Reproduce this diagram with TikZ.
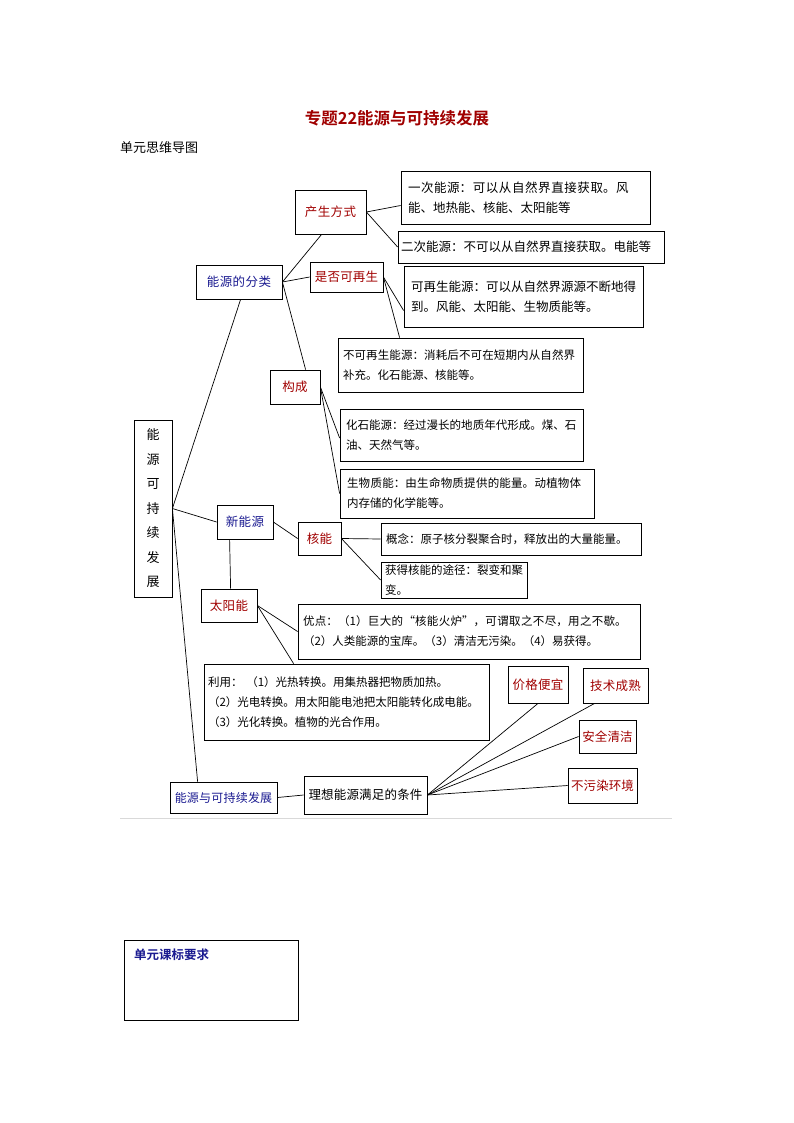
\documentclass[tikz,border=0pt]{standalone}
\usepackage{fontspec}
\setmainfont{Noto Sans CJK SC}[BoldFont={Noto Sans CJK SC Bold}]
\XeTeXlinebreaklocale "zh"
\XeTeXlinebreakskip=0pt plus 1pt
\definecolor{dred}{HTML}{A00000}
\definecolor{navy}{HTML}{1A1A90}
\begin{document}
\begin{tikzpicture}[x=1pt,y=-1pt,
  bx/.style={draw, line width=0.8pt, inner sep=0pt, font=\fontsize{12.5}{20}\selectfont},
  lab/.style={bx, text=dred, font=\fontsize{12.5}{15}\selectfont},
  blab/.style={bx, text=navy, font=\fontsize{12.5}{15}\selectfont},
  txt/.style={bx, align=left},
  ln/.style={line width=0.7pt}]
\useasboundingbox (0,0) rectangle (794,1123);
\node[text=dred, font=\fontsize{16.5}{20}\selectfont\bfseries] (title) at (397,118) {专题22能源与可持续发展};
\node[anchor=west, inner sep=0pt, font=\fontsize{13}{15}\selectfont] (sub) at (120,148) {单元思维导图};
\newcommand{\bxat}[8]{\pgfmathsetmacro\mw{#4-#2}\pgfmathsetmacro\mh{#5-#3}\pgfmathsetmacro\tw{#4-#2-#6}%
\node[#1, minimum width=\mw pt, minimum height=\mh pt, text width=\tw pt] (#7) at ({(#2+#4)/2},{(#3+#5)/2}) {#8};}
\bxat{lab,align=center}{295}{190}{366}{234}{0}{cs}{产生方式}
\bxat{txt}{401}{171}{650}{224}{14}{yc}{一次能源：可以从自然界直接获取。风能、地热能、核能、太阳能等}
\bxat{txt}{398}{231}{664}{263}{6}{ec}{二次能源：不可以从自然界直接获取。电能等}
\bxat{blab,align=center}{196}{265}{282}{299}{0}{fl}{能源的分类}
\bxat{lab,align=center}{310}{262}{383}{292}{0}{zs}{是否可再生}
\bxat{txt}{404}{266}{643}{327}{14}{kz}{可再生能源：可以从自然界源源不断地得到。风能、太阳能、生物质能等。}
\bxat{txt,font=\fontsize{11.5}{20}\selectfont}{338}{338}{583}{392}{10}{bk}{不可再生能源：消耗后不可在短期内从自然界补充。化石能源、核能等。}
\bxat{lab,align=center}{270}{370}{320}{404}{0}{gc}{构成}
\bxat{txt,font=\fontsize{11.5}{20}\selectfont}{340}{409}{583}{461}{12}{hs}{化石能源：经过漫长的地质年代形成。煤、石油、天然气等。}
\bxat{txt,font=\fontsize{11.5}{20}\selectfont}{340}{469}{594}{518}{14}{sw}{生物质能：由生命物质提供的能量。动植物体内存储的化学能等。}
\bxat{bx,align=center,font=\fontsize{13}{24.5}\selectfont}{134}{420}{172}{597}{0}{root}{能\\源\\可\\持\\续\\发\\展}
\bxat{blab,align=center}{217}{505}{273}{539}{0}{xn}{新能源}
\bxat{lab,align=center}{298}{522}{341}{555}{0}{hn}{核能}
\bxat{txt,font=\fontsize{11.5}{20}\selectfont}{381}{523}{641}{555}{10}{gn}{概念：原子核分裂聚合时，释放出的大量能量。}
\bxat{txt,font=\fontsize{11.5}{20}\selectfont}{381}{562}{527}{598}{8}{hd}{获得核能的途径：裂变和聚变。}
\bxat{lab,align=center}{201}{589}{257}{622}{0}{ty}{太阳能}
\bxat{txt,font=\fontsize{11.5}{20}\selectfont}{298}{604}{640}{659}{10}{yd}{优点：（1）巨大的“核能火炉”，可谓取之不尽，用之不歇。（2）人类能源的宝库。（3）清洁无污染。（4）易获得。}
\bxat{txt,font=\fontsize{11.5}{20}\selectfont}{204}{664}{489}{740}{8}{ly}{利用：\ （1）光热转换。用集热器把物质加热。\\（2）光电转换。用太阳能电池把太阳能转化成电能。\\（3）光化转换。植物的光合作用。}
\bxat{lab,align=center}{508}{666}{568}{703}{0}{jg}{价格便宜}
\bxat{lab,align=center}{583}{668}{648}{703}{0}{js}{技术成熟}
\bxat{lab,align=center}{579}{720}{636}{753}{0}{aq}{安全清洁}
\bxat{lab,align=center}{568}{768}{637}{803}{0}{bw}{不污染环境}
\bxat{blab,align=center,font=\fontsize{12}{15}\selectfont}{170}{782}{277}{813}{0}{nk}{能源与可持续发展}
\bxat{bx,align=center,font=\fontsize{12.5}{15}\selectfont}{304}{776}{427}{814}{0}{lx}{理想能源满足的条件}
\draw[gray!30, line width=0.8pt] (120,818) -- (672,818);
\node[draw, line width=0.8pt, anchor=north west, minimum width=174, minimum height=80] (kb) at (124,940) {};
\node[anchor=north west, inner sep=0pt, text=navy, font=\fontsize{12.5}{15}\selectfont\bfseries] (kbt) at (134,949) {单元课标要求};
% connectors
\draw[ln] (root.east) -- ([xshift=45pt]fl.south west);
\draw[ln] (root.east) -- (xn.west);
\draw[ln] (root.east) -- ([xshift=28pt]nk.north west);
\draw[ln] (fl.east) -- ([xshift=27pt]cs.south west);
\draw[ln] (fl.east) -- (zs.west);
\draw[ln] (fl.east) -- ([xshift=36pt]gc.north west);
\draw[ln] (cs.east) -- ([yshift=-8pt]yc.west);
\draw[ln] (cs.east) -- (ec.west);
\draw[ln] (zs.east) -- ([yshift=-14pt]kz.west);
\draw[ln] (zs.east) -- ([xshift=62pt]bk.north west);
\draw[ln] (gc.east) -- ([yshift=-3pt]hs.west);
\draw[ln] (gc.east) -- (sw.west);
\draw[ln] (xn.east) -- (hn.west);
\draw[ln] ([xshift=13pt]xn.south west) -- ([xshift=30pt]ty.north west);
\draw[ln] (hn.east) -- (gn.west);
\draw[ln] (hn.east) -- (hd.west);
\draw[ln] (ty.east) -- (yd.west);
\draw[ln] (ty.east) -- ([xshift=90pt]ly.north west);
\draw[ln] (nk.east) -- (lx.west);
\draw[ln] (lx.east) -- (jg.south);
\draw[ln] (lx.east) -- ([xshift=12pt]js.south west);
\draw[ln] (lx.east) -- (aq.west);
\draw[ln] (lx.east) -- (bw.west);
\end{tikzpicture}
\end{document}
